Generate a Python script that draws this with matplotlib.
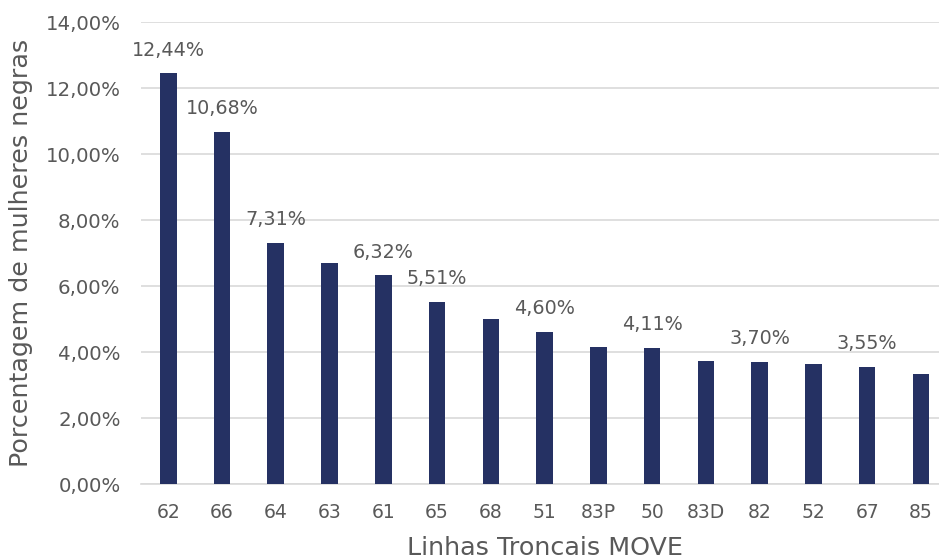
import matplotlib
matplotlib.use("Agg")
import matplotlib.pyplot as plt
from matplotlib.ticker import FuncFormatter, MultipleLocator

categories = ["62", "66", "64", "63", "61", "65", "68", "51", "83P", "50", "83D", "82", "52", "67", "85"]
values = [12.44, 10.68, 7.31, 6.70, 6.32, 5.51, 4.99, 4.60, 4.14, 4.11, 3.73, 3.70, 3.63, 3.55, 3.34]
labeled = ["62", "66", "64", "61", "65", "51", "50", "82", "67"]

bar_color = "#253163"
text_color = "#595959"
grid_color = "#d9d9d9"

plt.rcParams["font.family"] = ["DejaVu Sans"]

fig = plt.figure(figsize=(9.39, 5.6), dpi=100)
ax = fig.add_axes([141.4 / 939, 1 - 484 / 560, (947.8 - 141.4) / 939, (484 - 22) / 560])

x = list(range(len(categories)))
ax.bar(x, values, width=0.31, color=bar_color, zorder=3)

for xi, cat, v in zip(x, categories, values):
    if cat in labeled:
        ax.annotate(f"{v:.2f}%".replace(".", ","), (xi, v), xytext=(0, 10),
                    textcoords="offset points", ha="center", va="bottom",
                    fontsize=13.8, color=text_color)

ax.set_xlim(-0.5, len(categories) - 0.5)
ax.set_ylim(0, 14)
ax.yaxis.set_major_locator(MultipleLocator(2))
ax.yaxis.set_major_formatter(FuncFormatter(lambda v, p: f"{v:.2f}%".replace(".", ",")))
ax.set_xticks(x)
ax.set_xticklabels(categories)

ax.grid(axis="y", color=grid_color, linewidth=1.2, zorder=0)
for s in ["top", "right", "left"]:
    ax.spines[s].set_visible(False)
ax.spines["bottom"].set_color(grid_color)
ax.spines["bottom"].set_linewidth(1.2)
ax.tick_params(axis="both", length=0, colors=text_color)
ax.tick_params(axis="x", pad=14, labelsize=13.5)
ax.tick_params(axis="y", pad=15, labelsize=14.2)

ax.set_xlabel("Linhas Troncais MOVE", fontsize=18.3, color=text_color)
ax.set_ylabel("Porcentagem de mulheres negras", fontsize=18.3, color=text_color)
ax.xaxis.set_label_coords(0.5, -0.112)
ax.yaxis.set_label_coords(-0.1344, 0.5)

fig.savefig("out.png", dpi=100)
